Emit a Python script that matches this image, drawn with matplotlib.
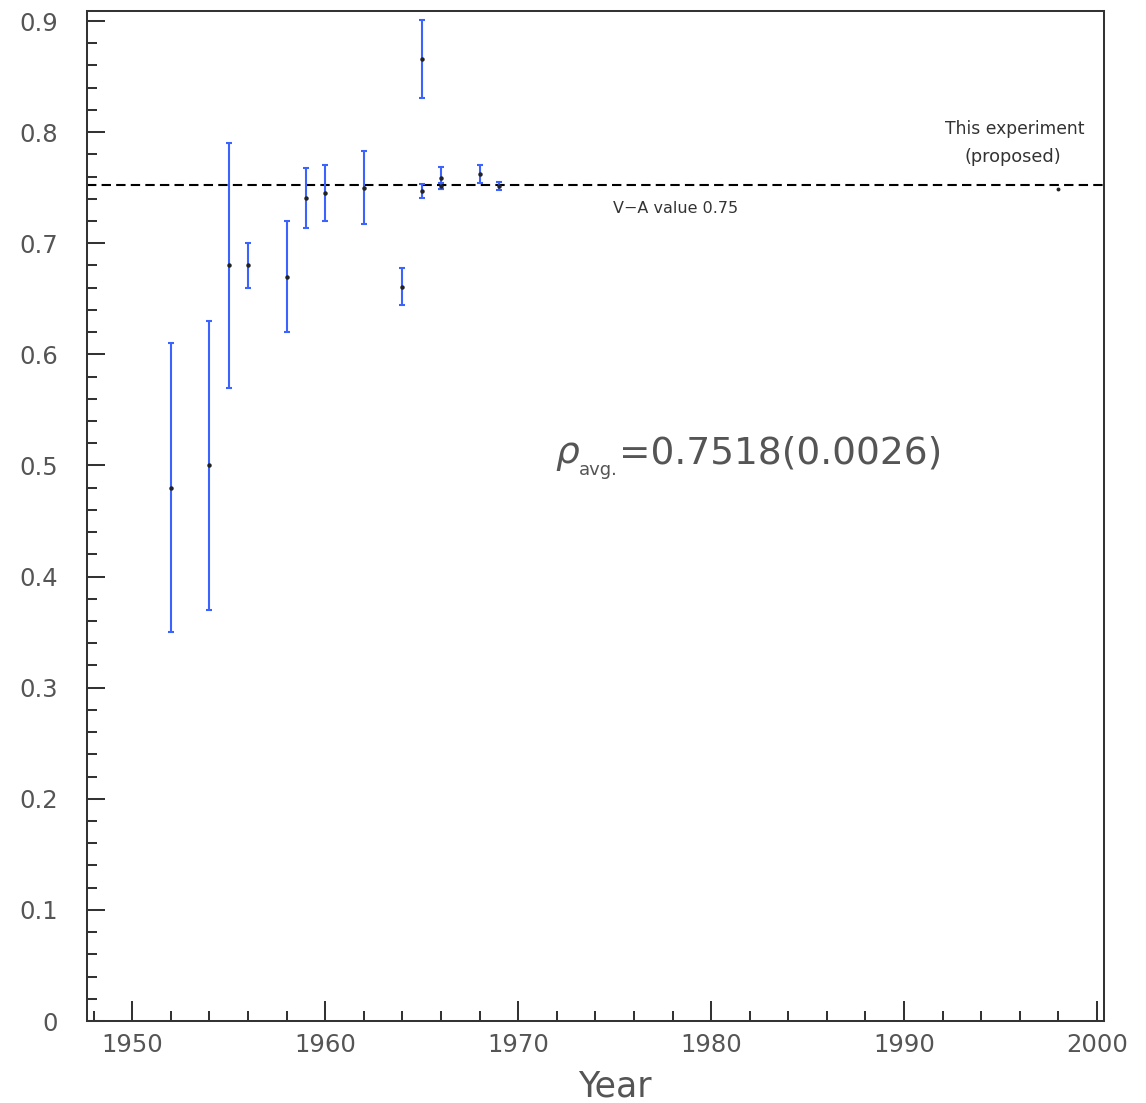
import numpy as np
import matplotlib
matplotlib.use("Agg")
import matplotlib.pyplot as plt
from matplotlib.ticker import MultipleLocator

# measurements of rho vs year
years = [1952, 1954, 1955, 1956, 1958, 1959, 1960, 1962, 1964, 1965, 1965, 1966, 1966, 1968, 1969]
rho = [0.48, 0.50, 0.68, 0.68, 0.67, 0.741, 0.745, 0.750, 0.661, 0.866, 0.747, 0.759, 0.7515, 0.762, 0.7515]
rho_err = [0.13, 0.13, 0.11, 0.02, 0.05, 0.027, 0.025, 0.033, 0.017, 0.035, 0.006, 0.010, 0.003, 0.008, 0.0035]

proposed_year = 1998
proposed_rho = 0.7485

va_value = 0.752

plt.rcParams['font.family'] = ['DejaVu Sans']

fig = plt.figure(figsize=(11.46, 11.03), dpi=100)
ax = fig.add_axes([0.0759, 0.0743, 0.8874, 0.9157])

ax.errorbar(years, rho, yerr=rho_err, fmt='none', ecolor='#3d63ff', elinewidth=1.5,
            capsize=2.3, capthick=1.5, zorder=2)
ax.plot(years, rho, 'o', color='#222222', ms=2.2, zorder=3)
ax.plot([proposed_year], [proposed_rho], 'o', color='#222222', ms=1.8, zorder=3)

ax.axhline(va_value, color='black', ls=(0, (4.5, 2.5)), lw=1.5, zorder=1)

txtcol = '#333333'
ax.text(1974.92, 0.7273, "V\u2212A value 0.75", fontsize=11.5, color=txtcol, ha='left', va='baseline')
ax.text(1995.75, 0.7984, "This experiment", fontsize=12.3, color=txtcol, ha='center', va='baseline')
ax.text(1995.65, 0.7735, "(proposed)", fontsize=12.8, color=txtcol, ha='center', va='baseline')

# rho_avg label
ax.text(1971.92, 0.502, "\u03c1", fontsize=27, style='italic', color='#555555', ha='left', va='baseline')
ax.text(1973.15, 0.491, "avg.", fontsize=13, color='#555555', ha='left', va='baseline')
ax.text(1975.25, 0.502, "=0.7518(0.0026)", fontsize=27, color='#555555', ha='left', va='baseline')

ax.set_xlim(1947.65, 2000.36)
ax.set_ylim(0, 0.909)
ax.xaxis.set_major_locator(MultipleLocator(10))
ax.xaxis.set_minor_locator(MultipleLocator(2))
ax.yaxis.set_minor_locator(MultipleLocator(0.02))
ax.set_yticks(np.arange(0, 0.91, 0.1))
ax.set_yticklabels(["0"] + ["%.1f" % v for v in np.arange(0.1, 0.91, 0.1)])

ax.tick_params(which='both', direction='in', color='#333333', width=1.45,
               top=False, right=False, labelsize=17.5, labelcolor='#555555')
ax.tick_params(axis='x', which='major', length=14.4, pad=8.6)
ax.tick_params(axis='x', which='minor', length=7.2)
ax.tick_params(axis='y', which='major', length=13, pad=21)
ax.tick_params(axis='y', which='minor', length=7.2)

for s in ax.spines.values():
    s.set_color('#333333')
    s.set_linewidth(1.45)

ax.set_xlabel("Year", fontsize=25, color='#555555')
ax.xaxis.label.set_va('baseline')
ax.xaxis.set_label_coords(0.519, -0.075)

fig.savefig("out.png", dpi=100)
